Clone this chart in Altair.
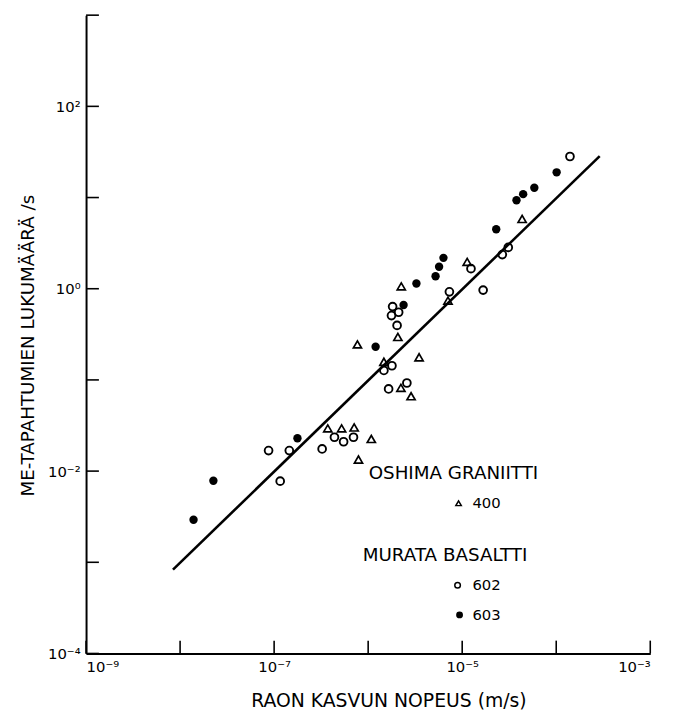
import altair as alt
import pandas as pd

# --- data ---
tri_x = [4.34e-5, 1.13e-5, 7.06e-6, 2.25e-6, 2.07e-6, 7.69e-7, 3.48e-6, 1.47e-6,
         2.23e-6, 2.86e-6, 3.72e-7, 5.22e-7, 7.10e-7, 1.08e-6, 7.89e-7]
tri_y = [5.82, 1.97, 0.74, 1.06, 0.296, 0.245, 0.177, 0.158,
         0.0817, 0.0662, 0.0294, 0.0294, 0.0301, 0.0225, 0.0134]

open_x = [1.40e-4, 3.09e-5, 2.67e-5, 1.24e-5, 7.31e-6, 1.67e-5, 1.82e-6, 2.11e-6,
          1.77e-6, 2.03e-6, 1.79e-6, 1.47e-6, 1.65e-6, 2.58e-6, 4.38e-7, 5.48e-7,
          6.98e-7, 3.24e-7, 8.73e-8, 1.45e-7, 1.16e-7]
open_y = [28.2, 2.84, 2.37, 1.66, 0.925, 0.966, 0.637, 0.552,
          0.508, 0.396, 0.143, 0.127, 0.0796, 0.0925, 0.0235, 0.0210,
          0.0235, 0.0175, 0.0168, 0.0168, 0.00776]

fill_x = [1.01e-4, 5.85e-5, 4.45e-5, 3.78e-5, 2.30e-5, 6.32e-6, 5.68e-6, 5.21e-6,
          3.26e-6, 2.38e-6, 1.20e-6, 1.77e-7, 2.26e-8, 1.39e-8]
fill_y = [18.9, 12.8, 10.9, 9.35, 4.49, 2.18, 1.74, 1.37,
          1.14, 0.664, 0.231, 0.0229, 0.00783, 0.00293]

fit_x = [8.4e-9, 2.9e-4]
fit_y = [8.3e-4, 28.5]

x_decades = [1e-9, 1e-8, 1e-7, 1e-6, 1e-5, 1e-4, 1e-3]
y_decades = [1e-4, 1e-3, 1e-2, 1e-1, 1e0, 1e1, 1e2, 1e3]
x_label_values = [1e-9, 1e-7, 1e-5, 1e-3]
y_label_values = [1e-4, 1e-2, 1e0, 1e2]

legend_headers = ["OSHIMA GRANIITTI", "MURATA BASALTTI"]
legend_labels = ["400", "602", "603"]

W, H = 571, 646
FONT = "DejaVu Sans"

xs = alt.Scale(type="log", domain=[1e-9, 1e-3], nice=False)
ys = alt.Scale(type="log", domain=[1e-4, 1e3], nice=False)

x_lab = "['10⁻⁹','10⁻⁸','10⁻⁷','10⁻⁶','10⁻⁵','10⁻⁴','10⁻³'][round(log(datum.value)/LN10)+9]"
y_lab = "['10⁻⁴','10⁻³','10⁻²','10⁻¹','10⁰','10¹','10²','10³'][round(log(datum.value)/LN10)+4]"

x_axis = alt.Axis(values=x_label_values, labelExpr=x_lab, ticks=False, grid=False,
                  title="RAON KASVUN NOPEUS (m/s)", titleX=306, titleY=48,
                  titleBaseline="middle", titleAlign="center", labelPadding=6,
                  titleFontSize=19)
y_axis = alt.Axis(values=y_label_values, labelExpr=y_lab, ticks=False, grid=False,
                  title="ME-TAPAHTUMIEN LUKUMÄÄRÄ /s", titleX=-59, titleY=334,
                  titleAngle=270, titleBaseline="middle", titleAlign="center",
                  labelPadding=6, titleFontSize=18.5)

df_tri = pd.DataFrame({"x": tri_x, "y": tri_y})
df_open = pd.DataFrame({"x": open_x, "y": open_y})
df_fill = pd.DataFrame({"x": fill_x, "y": fill_y})
df_fit = pd.DataFrame({"x": fit_x, "y": fit_y})

fit = alt.Chart(df_fit).mark_line(color="black", strokeWidth=2.6).encode(
    x=alt.X("x:Q", scale=xs, axis=x_axis),
    y=alt.Y("y:Q", scale=ys, axis=y_axis),
)

tri = alt.Chart(df_tri).mark_point(shape="triangle-up", filled=False, color="black",
                                   strokeWidth=1.7, size=68, opacity=1).encode(
    x=alt.X("x:Q", scale=xs), y=alt.Y("y:Q", scale=ys))
opn = alt.Chart(df_open).mark_point(shape="circle", filled=False, color="black",
                                    strokeWidth=1.9, size=62, opacity=1).encode(
    x=alt.X("x:Q", scale=xs), y=alt.Y("y:Q", scale=ys))
fil = alt.Chart(df_fill).mark_point(shape="circle", filled=True, color="black",
                                    size=72, opacity=1).encode(
    x=alt.X("x:Q", scale=xs), y=alt.Y("y:Q", scale=ys))

# inward tick marks at every decade
yticks = alt.Chart(pd.DataFrame({"v": y_decades})).mark_rule(color="black", strokeWidth=1.6).encode(
    y=alt.Y("v:Q", scale=ys), x=alt.value(0), x2=alt.value(13))
xticks = alt.Chart(pd.DataFrame({"v": x_decades})).mark_rule(color="black", strokeWidth=1.6).encode(
    x=alt.X("v:Q", scale=xs), y=alt.value(H), y2=alt.value(H - 13))

# legend (annotation block)
hdr = alt.Chart(pd.DataFrame({"t": legend_headers, "px": [286, 280], "py": [463, 546]})).mark_text(
    font=FONT, fontSize=18.5, align="left", baseline="middle", color="black").encode(
    text="t:N", x=alt.X("px:Q", scale=None), y=alt.Y("py:Q", scale=None))
lab = alt.Chart(pd.DataFrame({"t": legend_labels, "px": [391, 391, 391], "py": [494, 577, 607]})).mark_text(
    font=FONT, fontSize=15, align="left", baseline="middle", color="black").encode(
    text="t:N", x=alt.X("px:Q", scale=None), y=alt.Y("py:Q", scale=None))
lg_tri = alt.Chart(pd.DataFrame({"px": [377], "py": [494]})).mark_point(
    shape="triangle-up", filled=False, color="black", strokeWidth=1.5, size=30, opacity=1).encode(
    x=alt.X("px:Q", scale=None), y=alt.Y("py:Q", scale=None))
lg_open = alt.Chart(pd.DataFrame({"px": [376], "py": [577]})).mark_point(
    shape="circle", filled=False, color="black", strokeWidth=1.5, size=32, opacity=1).encode(
    x=alt.X("px:Q", scale=None), y=alt.Y("py:Q", scale=None))
lg_fill = alt.Chart(pd.DataFrame({"px": [378], "py": [607]})).mark_point(
    shape="circle", filled=True, color="black", size=48, opacity=1).encode(
    x=alt.X("px:Q", scale=None), y=alt.Y("py:Q", scale=None))

chart = alt.layer(fit, yticks, xticks, tri, opn, fil, hdr, lab, lg_tri, lg_open, lg_fill).properties(
    width=W, height=H,
    autosize=alt.AutoSizeParams(type="none"),
    padding={"left": 79, "top": 3, "right": 22, "bottom": 57},
    background="white",
).configure_view(stroke=None).configure_axis(
    domainColor="black", domainWidth=2, labelColor="black", labelFont=FONT,
    labelFontSize=15, titleFont=FONT, titleFontWeight="normal",
    titleColor="black",
)

chart.save("out.html", embed_options={"renderer": "svg", "actions": False})
